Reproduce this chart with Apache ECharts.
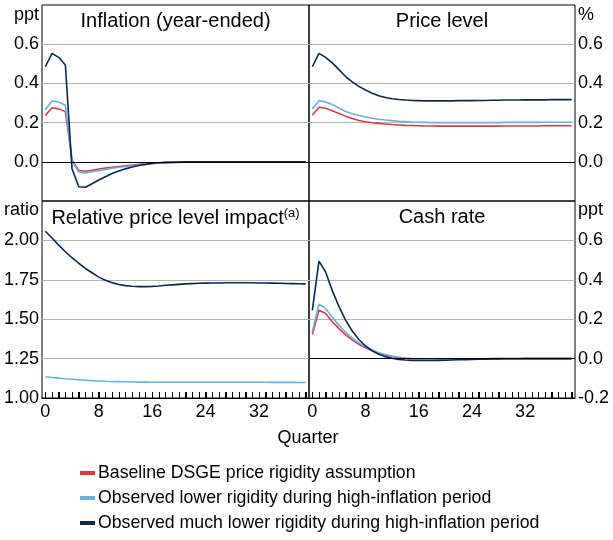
<!DOCTYPE html>
<html>
<head>
<meta charset="utf-8">
<script src="https://cdn.jsdelivr.net/npm/echarts@6/dist/echarts.min.js"></script>
<style>
  html, body { margin: 0; padding: 0; background: #fff; }
  #chart { width: 613px; height: 540px; }
</style>
</head>
<body>
<div id="chart"></div>
<script>
// quarters 0..39
const quarters = ['0','1','2','3','4','5','6','7','8','9','10','11','12','13','14','15','16','17','18','19',
  '20','21','22','23','24','25','26','27','28','29','30','31','32','33','34','35','36','37','38','39']

const names = [
  'Baseline DSGE price rigidity assumption',
  'Observed lower rigidity during high-inflation period',
  'Observed much lower rigidity during high-inflation period'
]
const colors = ['#ee2f3c', '#5cb5e6', '#0b2750']

// Inflation (year-ended), ppt
const inflRed = [0.236, 0.276, 0.27, 0.256, 0.01, -0.044, -0.048, -0.043, -0.037, -0.032, -0.028, -0.024, -0.02, -0.016, -0.013, -0.01, -0.008, -0.006, -0.004, -0.003,
  -0.002, -0.001, -0.001, 0, 0, 0, 0, 0, 0, 0, 0, 0, 0, 0, 0, 0, 0, 0, 0, 0]
const inflBlue = [0.266, 0.31, 0.305, 0.289, 0.005, -0.052, -0.057, -0.051, -0.045, -0.039, -0.033, -0.028, -0.024, -0.02, -0.016, -0.012, -0.009, -0.007, -0.005, -0.004,
  -0.003, -0.002, -0.001, -0.001, 0, 0, 0, 0, 0, 0, 0, 0, 0, 0, 0, 0, 0, 0, 0, 0]
const inflDark = [0.485, 0.553, 0.533, 0.494, -0.035, -0.127, -0.13, -0.112, -0.093, -0.076, -0.06, -0.047, -0.036, -0.027, -0.019, -0.013, -0.008, -0.005, -0.003, -0.002,
  -0.001, 0, 0, 0, 0, 0, 0, 0, 0, 0, 0, 0, 0, 0, 0, 0, 0, 0, 0, 0]

// Price level, %
const priceRed = [0.237, 0.278, 0.273, 0.261, 0.247, 0.233, 0.221, 0.211, 0.204, 0.199, 0.196, 0.193, 0.19, 0.188, 0.186, 0.185, 0.184, 0.183, 0.183, 0.182,
  0.182, 0.182, 0.182, 0.182, 0.182, 0.182, 0.182, 0.182, 0.182, 0.183, 0.183, 0.183, 0.183, 0.183, 0.183, 0.184, 0.184, 0.184, 0.184, 0.184]
const priceBlue = [0.269, 0.312, 0.305, 0.292, 0.275, 0.257, 0.245, 0.236, 0.229, 0.222, 0.217, 0.213, 0.21, 0.207, 0.205, 0.203, 0.202, 0.201, 0.2, 0.2,
  0.2, 0.2, 0.2, 0.2, 0.2, 0.2, 0.2, 0.2, 0.2, 0.201, 0.201, 0.201, 0.201, 0.201, 0.201, 0.202, 0.202, 0.202, 0.202, 0.202]
const priceDark = [0.485, 0.553, 0.533, 0.505, 0.47, 0.435, 0.408, 0.385, 0.366, 0.35, 0.337, 0.328, 0.322, 0.318, 0.315, 0.313, 0.312, 0.311, 0.311, 0.311,
  0.311, 0.311, 0.312, 0.312, 0.312, 0.313, 0.313, 0.314, 0.314, 0.315, 0.315, 0.315, 0.316, 0.316, 0.316, 0.316, 0.317, 0.317, 0.317, 0.317]

// Relative price level impact, ratio
const relBlue = [1.135, 1.13, 1.126, 1.122, 1.119, 1.116, 1.113, 1.11, 1.108, 1.106, 1.105, 1.104, 1.103, 1.102, 1.101, 1.101, 1.1, 1.1, 1.1, 1.1,
  1.1, 1.1, 1.1, 1.1, 1.1, 1.1, 1.1, 1.1, 1.1, 1.1, 1.1, 1.1, 1.1, 1.1, 1.099, 1.099, 1.099, 1.099, 1.098, 1.098]
const relDark = [2.058, 2.015, 1.97, 1.928, 1.89, 1.855, 1.822, 1.795, 1.767, 1.747, 1.732, 1.72, 1.713, 1.709, 1.707, 1.707, 1.708, 1.711, 1.715, 1.718,
  1.721, 1.724, 1.726, 1.728, 1.729, 1.73, 1.73, 1.731, 1.731, 1.731, 1.731, 1.731, 1.73, 1.73, 1.729, 1.728, 1.727, 1.726, 1.725, 1.724]

// Cash rate, ppt
const cashRed = [0.122, 0.246, 0.229, 0.187, 0.152, 0.121, 0.095, 0.073, 0.055, 0.04, 0.028, 0.019, 0.012, 0.006, 0.002, -0.001, -0.003, -0.004, -0.004, -0.004,
  -0.003, -0.003, -0.002, -0.002, -0.001, -0.001, -0.001, 0, 0, 0, 0, 0, 0, 0, 0, 0, 0, 0, 0, 0]
const cashBlue = [0.135, 0.276, 0.254, 0.21, 0.17, 0.134, 0.104, 0.08, 0.06, 0.043, 0.03, 0.02, 0.012, 0.006, 0.002, -0.001, -0.003, -0.004, -0.004, -0.004,
  -0.004, -0.003, -0.003, -0.002, -0.002, -0.001, -0.001, -0.001, 0, 0, 0, 0, 0, 0, 0, 0, 0, 0, 0, 0]
const cashDark = [0.245, 0.495, 0.44, 0.345, 0.265, 0.195, 0.14, 0.097, 0.064, 0.04, 0.022, 0.01, 0.002, -0.004, -0.007, -0.009, -0.01, -0.01, -0.01, -0.009,
  -0.008, -0.007, -0.006, -0.005, -0.004, -0.003, -0.003, -0.002, -0.002, -0.001, -0.001, -0.001, 0, 0, 0, 0, 0, 0, 0, 0]

const font = 'Liberation Sans, Arial, sans-serif'
const grids = [
  { left: 42, top: 5, width: 267, height: 196 },
  { left: 309, top: 5, width: 266, height: 196 },
  { left: 42, top: 201, width: 267, height: 197 },
  { left: 309, top: 201, width: 266, height: 197 }
]

function fmt1(lo, hi) {
  return function (v) {
    const k = Math.round(v * 10)
    return (k >= lo && k <= hi) ? (k / 10).toFixed(1) : ''
  }
}
function fmt2(v) {
  const k = Math.round(v * 100)
  return k <= 200 ? (k / 100).toFixed(2) : ''
}

function makeY(i, min, max, interval, pos, formatter) {
  return {
    type: 'value', gridIndex: i, min: min, max: max, interval: interval, position: pos,
    axisLine: { show: false }, axisTick: { show: false },
    splitLine: { show: true, showMinLine: false, showMaxLine: false, lineStyle: { color: '#b4b4b4', width: 1 } },
    axisLabel: { margin: 3, fontSize: 18, color: '#000', fontFamily: font, formatter: formatter }
  }
}

function makeX(i) {
  const bottom = i >= 2
  return {
    type: 'category', gridIndex: i, data: quarters, boundaryGap: true,
    axisLine: { show: bottom, onZero: false, lineStyle: { color: '#000', width: 1 } },
    axisTick: { show: bottom, inside: true, length: 6, alignWithLabel: true, interval: 0, lineStyle: { color: '#000', width: 1 } },
    axisLabel: { show: bottom, interval: 7, margin: 5, fontSize: 18, color: '#000', fontFamily: font },
    splitLine: { show: false }
  }
}

// quarter tick marks along the bottom of the lower panels
function tickSeries(gi, yMin) {
  return {
    type: 'custom', coordinateSystem: 'cartesian2d', xAxisIndex: gi, yAxisIndex: gi,
    silent: true, clip: false, z: 10, zlevel: 1,
    encode: { x: 0, y: 1 },
    data: quarters.map((q, i) => [i, yMin]),
    renderItem: function (params, api) {
      const p = api.coord([api.value(0), api.value(1)])
      const x = Math.round(p[0]) + 0.5
      return {
        type: 'line',
        shape: { x1: x, y1: p[1], x2: x, y2: p[1] - 6 },
        style: { stroke: '#000', lineWidth: 1 }
      }
    }
  }
}

const zeroLine = {
  silent: true, symbol: 'none', label: { show: false },
  lineStyle: { color: '#000', width: 1, type: 'solid' },
  data: [{ yAxis: 0 }]
}

function line(gi, k, data, withZero) {
  const s = {
    name: names[k], type: 'line', xAxisIndex: gi, yAxisIndex: gi, data: data,
    showSymbol: false, symbol: 'none', color: colors[k],
    lineStyle: { width: 1.6, color: colors[k] }
  }
  if (withZero) s.markLine = zeroLine
  return s
}

const series = [
  line(0, 0, inflRed, true), line(0, 1, inflBlue), line(0, 2, inflDark),
  line(1, 0, priceRed, true), line(1, 1, priceBlue), line(1, 2, priceDark),
  line(2, 1, relBlue), line(2, 2, relDark),
  line(3, 0, cashRed, true), line(3, 1, cashBlue), line(3, 2, cashDark),
  tickSeries(2, 1), tickSeries(3, -0.2)
]

function txt(x, y, text, align, size) {
  return { type: 'text', x: x, y: y, style: { text: text, fontSize: size || 18, fontFamily: font, fill: '#000', textAlign: align, textVerticalAlign: 'middle' } }
}

const option = {
  animation: false,
  backgroundColor: '#fff',
  grid: grids.map(g => Object.assign({ show: true, borderColor: '#000', borderWidth: 1 }, g)),
  xAxis: [makeX(0), makeX(1), makeX(2), makeX(3)],
  yAxis: [
    makeY(0, -0.2, 0.8, 0.2, 'left', fmt1(0, 6)),
    makeY(1, -0.2, 0.8, 0.2, 'right', fmt1(0, 6)),
    makeY(2, 1, 2.25, 0.25, 'left', fmt2),
    makeY(3, -0.2, 0.8, 0.2, 'right', fmt1(-2, 6))
  ],
  legend: {
    data: names, orient: 'vertical', left: 80, top: 464, padding: 0,
    icon: 'rect', itemWidth: 15, itemHeight: 4, itemGap: 7,
    textStyle: { fontSize: 17.7, color: '#000', fontFamily: font, padding: [0, 0, 0, -2] }
  },
  graphic: [
    txt(39, 15, 'ppt', 'right'),
    txt(39, 210, 'ratio', 'right'),
    txt(578, 15, '%', 'left'),
    txt(578, 210, 'ppt', 'left'),
    txt(308, 438, 'Quarter', 'center'),
    txt(175.5, 21, 'Inflation (year-ended)', 'center', 20),
    txt(442, 21, 'Price level', 'center', 20),
    txt(442, 217, 'Cash rate', 'center', 20),
    {
      type: 'text', x: 175.5, y: 218,
      style: {
        text: '{m|Relative price level impact}{s|(a)}',
        textAlign: 'center', textVerticalAlign: 'middle', fill: '#000',
        rich: {
          m: { fontSize: 20, fontFamily: font, fill: '#000', lineHeight: 22 },
          s: { fontSize: 13, fontFamily: font, fill: '#000', verticalAlign: 'top', lineHeight: 22, padding: [0, 0, 8, 0] }
        }
      }
    }
  ],
  series: series
}

const chart = echarts.init(document.getElementById('chart'), null, { renderer: 'canvas' })
chart.setOption(option)
</script>
</body>
</html>
